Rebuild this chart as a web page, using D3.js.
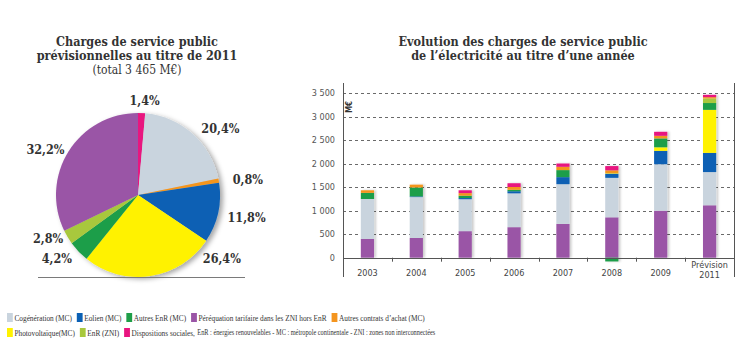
<!DOCTYPE html>
<html>
<head>
<meta charset="utf-8">
<script src="https://cdn.jsdelivr.net/npm/d3@7"></script>
<style>
  body { margin: 0; background: #fff; }
  svg text { fill: #333; }
</style>
</head>
<body>
<div id="chart"></div>
<script>
// pie: 2011 forecast shares (%), clockwise from 12 o'clock
var pieKeys = ["soc", "cog", "autach", "eol", "pv", "autenr", "znienr", "pereq"];
var pieShares = [1.4, 20.4, 0.8, 11.8, 26.4, 4.2, 2.8, 32.2];
var pieLabels = ["1,4%", "20,4%", "0,8%", "11,8%", "26,4%", "4,2%", "2,8%", "32,2%"];

// bars: charges per year (M€), stacked bottom to top
var years = ["2003", "2004", "2005", "2006", "2007", "2008", "2009", "Prévision 2011"];
var pereq  = [400, 420, 565, 650, 720, 860, 1000, 1116];
var cog    = [850, 870, 680, 720, 845, 840, 990, 707];
var eol    = [0, 15, 25, 45, 150, 90, 285, 409];
var pv     = [0, 0, 0, 0, 0, 10, 75, 915];
var autenr = [130, 190, 50, 30, 150, -80, 190, 146];
var znienr = [0, 0, 0, 0, 0, 0, 0, 97];
var autach = [55, 60, 55, 60, 70, 60, 55, 28];
var soc    = [0, 0, 60, 80, 70, 90, 85, 49];
var yTicks = [0, 500, 1000, 1500, 2000, 2500, 3000, 3500];

var colors = {
  cog: "#c9d4de", eol: "#0b60b4", autenr: "#1f9e48", pereq: "#9a55a6",
  autach: "#f4951f", pv: "#fff200", znienr: "#a8c83c", soc: "#e8147f"
};
var stackKeys = ["pereq", "cog", "eol", "pv", "autenr", "znienr", "autach", "soc"];
var series = {pereq: pereq, cog: cog, eol: eol, pv: pv, autenr: autenr, znienr: znienr, autach: autach, soc: soc};

var legendRows = [
  [["cog", "Cogénération (MC)"], ["eol", "Eolien (MC)"], ["autenr", "Autres EnR (MC)"],
   ["pereq", "Péréquation tarifaire dans les ZNI hors EnR"], ["autach", "Autres contrats d\u2019achat (MC)"]],
  [["pv", "Photovoltaïque(MC)"], ["znienr", "EnR (ZNI)"], ["soc", "Dispositions sociales,"]]
];
var legendNote = "EnR : énergies renouvelables - MC : métropole continentale - ZNI : zones non interconnectées";

var width = 750, height = 347;
var titleFont = "'DejaVu Serif Condensed', 'DejaVu Serif', serif";
var textFont = "'DejaVu Sans Condensed', 'DejaVu Sans', sans-serif";
var legendFont = "'Liberation Serif', serif";

var svg = d3.select("#chart").append("svg")
  .attr("width", width)
  .attr("height", height);

var defs = svg.append("defs");
var shadow = defs.append("filter").attr("id", "shadow")
  .attr("x", "-20%").attr("y", "-20%").attr("width", "150%").attr("height", "150%");
shadow.append("feDropShadow")
  .attr("dx", 3).attr("dy", 2).attr("stdDeviation", 2.5)
  .attr("flood-color", "#000").attr("flood-opacity", 0.35);
var barShadow = defs.append("filter").attr("id", "barshadow")
  .attr("x", "-30%").attr("y", "-5%").attr("width", "170%").attr("height", "110%");
barShadow.append("feDropShadow")
  .attr("dx", 2).attr("dy", 0).attr("stdDeviation", 1)
  .attr("flood-color", "#000").attr("flood-opacity", 0.2);

// ---- pie ----
var pieTitle = svg.append("text")
  .attr("x", 137).attr("y", 46)
  .attr("text-anchor", "middle")
  .style("font-family", titleFont);
pieTitle.append("tspan").attr("x", 137).attr("dy", 0)
  .style("font-weight", "bold").style("font-size", "12.5px").text("Charges de service public");
pieTitle.append("tspan").attr("x", 137).attr("dy", 14)
  .style("font-weight", "bold").style("font-size", "12.5px").text("prévisionnelles au titre de 2011");
pieTitle.append("tspan").attr("x", 137).attr("dy", 14)
  .style("font-size", "12px").text("(total 3 465 M\u20ac)");

var cx = 138, cy = 195, r = 82;
var pieData = pieKeys.map(function(k, i) { return {key: k, value: pieShares[i], label: pieLabels[i]}; });
var pie = d3.pie().sort(null).value(function(d) { return d.value; });
var arc = d3.arc().innerRadius(0).outerRadius(r);
var arcs = pie(pieData);

var gPie = svg.append("g").attr("transform", "translate(" + cx + "," + cy + ")");
gPie.append("g").attr("filter", "url(#shadow)")
  .selectAll("path")
  .data(arcs)
  .join("path")
    .attr("d", arc)
    .attr("fill", function(d) { return colors[d.data.key]; });

// label placement around the pie: angle (deg from north) and radius
var labelPos = [[4, 95], [51, 106], [82, 111], [102, 111], [127, 105], [232, 103], [244, 100], [296, 103]];
gPie.selectAll("text.pct")
  .data(arcs)
  .join("text")
    .attr("class", "pct")
    .attr("x", function(d, i) { return labelPos[i][1] * Math.sin(labelPos[i][0] * Math.PI / 180); })
    .attr("y", function(d, i) { return -labelPos[i][1] * Math.cos(labelPos[i][0] * Math.PI / 180); })
    .attr("dy", "0.35em")
    .attr("text-anchor", "middle")
    .style("font-family", titleFont)
    .style("font-weight", "bold")
    .style("font-size", "12.5px")
    .text(function(d) { return d.data.label; });

svg.append("line")
  .attr("x1", 38).attr("x2", 245).attr("y1", 277.5).attr("y2", 277.5)
  .attr("stroke", "#7a7a7a").attr("stroke-width", 1);

// ---- stacked bars ----
var barTitle = svg.append("text")
  .attr("x", 523).attr("y", 46)
  .attr("text-anchor", "middle")
  .style("font-family", titleFont)
  .style("font-weight", "bold")
  .style("font-size", "12.5px");
barTitle.append("tspan").attr("x", 523).attr("dy", 0).text("Evolution des charges de service public");
barTitle.append("tspan").attr("x", 523).attr("dy", 14).text("de l\u2019électricité au titre d\u2019une année");

var plot = {left: 343, right: 734, top: 83, bottom: 277};

var table = years.map(function(y, i) {
  var row = {year: y};
  stackKeys.forEach(function(k) { row[k] = series[k][i]; });
  return row;
});

var stacked = d3.stack()
  .keys(stackKeys)
  .offset(d3.stackOffsetDiverging)(table);

var x = d3.scaleBand()
  .domain(years)
  .range([plot.left, plot.right])
  .paddingInner(0.73)
  .paddingOuter(0.365);

var y = d3.scaleLinear()
  .domain([0, 3500])
  .range([257.7, 93.3]);

// dashed grid
svg.append("g")
  .selectAll("line")
  .data(yTicks.filter(function(t) { return t > 0; }))
  .join("line")
    .attr("x1", plot.left).attr("x2", plot.right)
    .attr("y1", function(d) { return Math.round(y(d)) + 0.5; })
    .attr("y2", function(d) { return Math.round(y(d)) + 0.5; })
    .attr("stroke", "#6a6a6a")
    .attr("stroke-width", 1)
    .attr("stroke-dasharray", "3,3");

// y labels
svg.append("g")
  .selectAll("text")
  .data(yTicks)
  .join("text")
    .attr("x", 335)
    .attr("y", function(d) { return y(d); })
    .attr("dy", "0.35em")
    .attr("text-anchor", "end")
    .style("font-family", textFont)
    .style("font-size", "9px")
    .style("fill", "#555")
    .text(function(d) { return d3.format(",")(d).replace(/,/g, " "); });

svg.append("text")
  .attr("transform", "translate(352,107) rotate(-90)")
  .attr("text-anchor", "middle")
  .style("font-family", textFont)
  .style("font-weight", "bold")
  .style("font-size", "8px")
  .text("M\u20ac");

// bars
svg.append("g").attr("filter", "url(#barshadow)")
  .selectAll("g")
  .data(stacked)
  .join("g")
    .attr("fill", function(d) { return colors[d.key]; })
  .selectAll("rect")
  .data(function(d) { return d; })
  .join("rect")
    .attr("x", function(d) { return x(d.data.year); })
    .attr("width", x.bandwidth())
    .attr("y", function(d) { return y(Math.max(d[0], d[1])); })
    .attr("height", function(d) { return Math.abs(y(d[0]) - y(d[1])); });

// frame and zero line
svg.append("line")
  .attr("x1", plot.left + 0.5).attr("x2", plot.left + 0.5)
  .attr("y1", plot.top).attr("y2", plot.bottom)
  .attr("stroke", "#555");
svg.append("line")
  .attr("x1", plot.right + 0.5).attr("x2", plot.right + 0.5)
  .attr("y1", plot.top).attr("y2", plot.bottom)
  .attr("stroke", "#555");
svg.append("line")
  .attr("x1", plot.left).attr("x2", plot.right)
  .attr("y1", Math.round(y(0)) + 0.5).attr("y2", Math.round(y(0)) + 0.5)
  .attr("stroke", "#555");

// separators between years
svg.append("g")
  .selectAll("line")
  .data(years.slice(1))
  .join("line")
    .attr("x1", function(d) { return Math.round(x(d) - x.step() * x.paddingInner() / 2) + 0.5; })
    .attr("x2", function(d) { return Math.round(x(d) - x.step() * x.paddingInner() / 2) + 0.5; })
    .attr("y1", y(0)).attr("y2", y(0) + 4)
    .attr("stroke", "#555");

// year labels
svg.append("g")
  .selectAll("text")
  .data(years)
  .join("text")
    .attr("x", function(d) { return x(d) + x.bandwidth() / 2; })
    .attr("y", function(d) { return d.indexOf(" ") > 0 ? 268 : 276; })
    .attr("text-anchor", "middle")
    .style("font-family", textFont)
    .style("font-size", "9px")
    .style("fill", "#444")
    .each(function(d) {
      var parts = d.split(" ");
      var t = d3.select(this);
      parts.forEach(function(p, i) {
        t.append("tspan").attr("x", x(d) + x.bandwidth() / 2).attr("dy", i ? 10 : 0).text(p);
      });
    });

// ---- legend (squeezed horizontally, the source face is condensed) ----
var squeeze = 0.83;
var legend = svg.append("g")
  .attr("transform", "scale(" + squeeze + ",1)")
  .style("font-family", legendFont)
  .style("font-size", "8.8px");
var rowY = [318, 333];
legendRows.forEach(function(row, ri) {
  var xPos = 7 / squeeze;
  row.forEach(function(item) {
    legend.append("rect")
      .attr("x", xPos).attr("y", rowY[ri] - 5)
      .attr("width", 7).attr("height", 9)
      .attr("fill", colors[item[0]]);
    var t = legend.append("text")
      .attr("x", xPos + 9).attr("y", rowY[ri])
      .attr("dy", "0.33em")
      .text(item[1]);
    xPos += 9 + t.node().getComputedTextLength() + 6;
  });
  if (ri === 1) {
    legend.append("text")
      .attr("x", xPos - 3).attr("y", rowY[ri])
      .attr("dy", "0.33em")
      .style("font-size", "7.6px")
      .text(legendNote);
  }
});
</script>
</body>
</html>
